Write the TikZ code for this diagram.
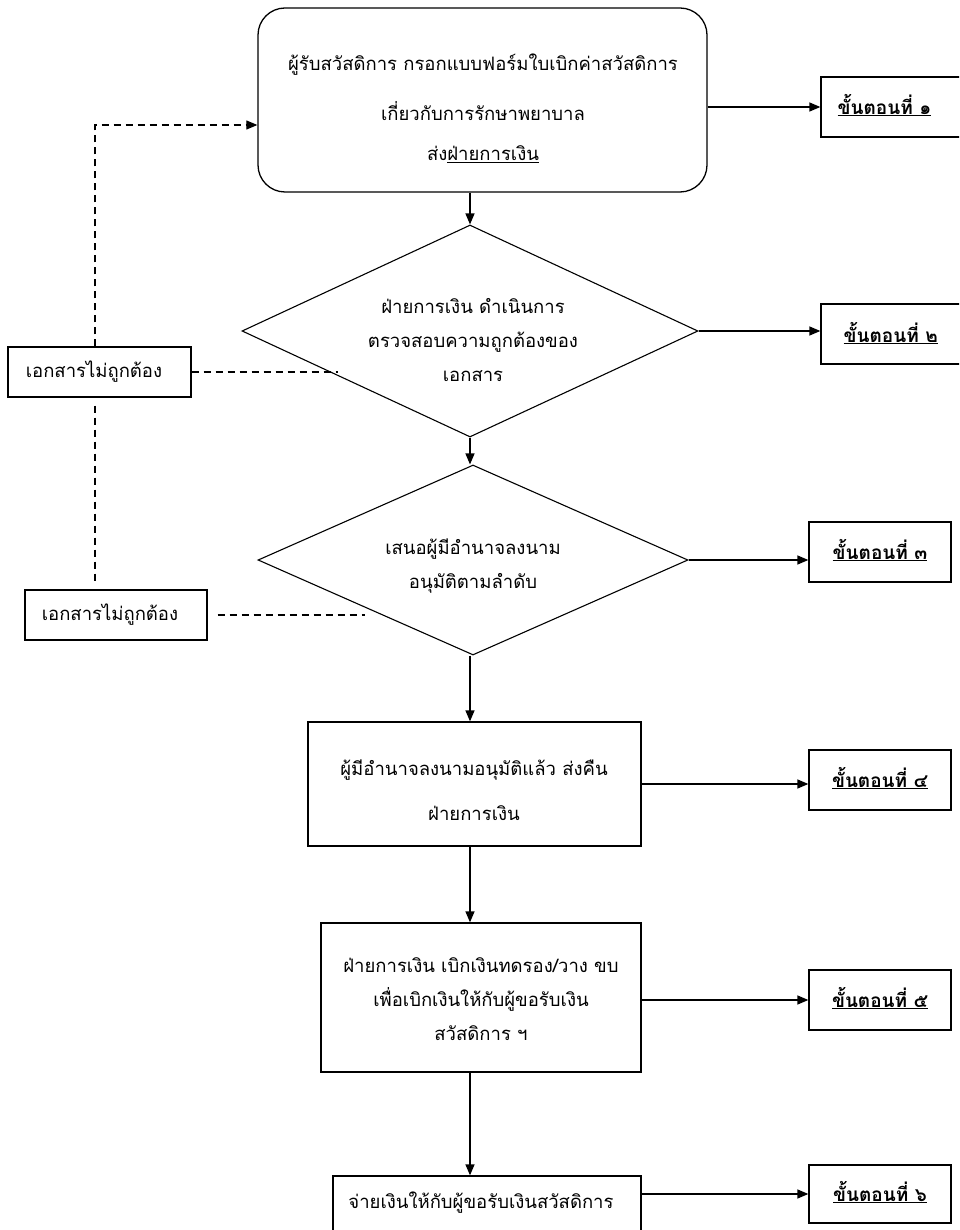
\documentclass[tikz,border=0pt]{standalone}
\usepackage{fontspec}
\setmainfont[Script=Thai]{Loma}
\usetikzlibrary{arrows.meta,shapes.geometric}
\begin{document}
\begin{tikzpicture}[x=1pt,y=-1pt,
  line width=1.3pt,
  arr/.style={-{Triangle[length=11pt,width=9pt]}},
  dline/.style={dashed, dash pattern=on 7pt off 5pt, line width=1.1pt},
  box/.style={draw, rectangle, inner sep=0pt},
  rbox/.style={draw, rectangle, rounded corners=27pt, inner sep=0pt},
  dia/.style={draw, diamond, inner sep=0pt, line width=1.1pt},
  txt/.style={font=\fontsize{18.5}{34}\selectfont, align=center, inner sep=0pt},
  stp/.style={font=\fontsize{19}{22}\selectfont\bfseries, inner sep=0pt}
]
\useasboundingbox (0,0) rectangle (959,1230);
\fill[white] (0,0) rectangle (959,1230);
\clip (0,0) rectangle (959,1230);

\coordinate (ax) at (470,0);
\coordinate (c) at (95,125);
\coordinate (e1) at (338,373);
\coordinate (e2) at (365,617);

% main flow
\node[rbox, minimum width=449pt, minimum height=184pt] (n1) at (482.5,100) {};
\node[txt, font=\fontsize{18.5}{40}\selectfont] (n1t) at (483,108)
  {ผู้รับสวัสดิการ กรอกแบบฟอร์มใบเบิกค่าสวัสดิการ\\[10pt]เกี่ยวกับการรักษาพยาบาล\\ส่ง\underline{ฝ่ายการเงิน}};

\node[dia, minimum width=456pt, minimum height=212pt] (d1) at (470,331) {};
\node[txt] (d1t) at (473,340)
  {ฝ่ายการเงิน ดำเนินการ\\ตรวจสอบความถูกต้องของ\\เอกสาร};

\node[dia, minimum width=430pt, minimum height=190pt] (d2) at (473,560) {};
\node[txt] (d2t) at (473,566)
  {เสนอผู้มีอำนาจลงนาม\\อนุมัติตามลำดับ};

\node[box, minimum width=333pt, minimum height=124pt] (n4) at (474.5,784) {};
\node[txt, font=\fontsize{18.5}{45}\selectfont] (n4t) at (474,790)
  {ผู้มีอำนาจลงนามอนุมัติแล้ว ส่งคืน\\ฝ่ายการเงิน};

\node[box, minimum width=320pt, minimum height=149pt] (n5) at (481,997.5) {};
\node[txt] (n5t) at (481,999)
  {ฝ่ายการเงิน เบิกเงินทดรอง/วาง ขบ\\เพื่อเบิกเงินให้กับผู้ขอรับเงิน\\สวัสดิการ ฯ};

\node[box, minimum width=308pt, minimum height=69pt] (n6) at (487,1210.5) {};
\node[txt] (n6t) at (481,1203) {จ่ายเงินให้กับผู้ขอรับเงินสวัสดิการ};

% step boxes
\node[box, minimum width=154pt, minimum height=60pt] (s1) at (898,107) {};
\node[stp, anchor=west] (s1t) at (837,105) {\underline{ขั้นตอนที่ ๑}};
\node[box, minimum width=154pt, minimum height=60pt] (s2) at (898,334) {};
\node[stp, anchor=west] (s2t) at (843,333) {\underline{ขั้นตอนที่ ๒}};
\node[box, minimum width=142pt, minimum height=60pt] (s3) at (880,552) {};
\node[stp] (s3t) at (880,550) {\underline{ขั้นตอนที่ ๓}};
\node[box, minimum width=142pt, minimum height=60pt] (s4) at (880,780) {};
\node[stp] (s4t) at (880,778) {\underline{ขั้นตอนที่ ๔}};
\node[box, minimum width=142pt, minimum height=60pt] (s5) at (880,1000) {};
\node[stp] (s5t) at (880,998) {\underline{ขั้นตอนที่ ๕}};
\node[box, minimum width=142pt, minimum height=58pt] (s6) at (880,1194) {};
\node[stp] (s6t) at (880,1192) {\underline{ขั้นตอนที่ ๖}};

% error boxes
\node[box, minimum width=183pt, minimum height=50pt] (b1) at (99.5,372) {};
\node[txt] (b1t) at (94,372) {เอกสารไม่ถูกต้อง};
\node[box, minimum width=182pt, minimum height=50pt] (b2) at (116,615) {};
\node[txt] (b2t) at (110,615) {เอกสารไม่ถูกต้อง};

% vertical flow arrows
\draw[arr] (n1.south -| ax) -- (d1.north -| ax);
\draw[arr] (d1.south -| ax) -- (d2.north -| ax);
\draw[arr] (d2.south -| ax) -- (n4.north -| ax);
\draw[arr] (n4.south -| ax) -- (n5.north -| ax);
\draw[arr] (n5.south -| ax) -- (n6.north -| ax);

% arrows to steps
\draw[arr] (n1.east |- s1.west) -- (s1.west);
\draw[arr] (d1.east) -- (d1.east -| s2.west);
\draw[arr] (d2.east) -- (d2.east -| s3.west);
\draw[arr] (n4.east) -- (n4.east -| s4.west);
\draw[arr] (n5.east |- s5.west) -- (s5.west);
\draw[arr] (n6.east |- s6.west) -- (s6.west);

% dashed return paths
\draw[dline, arr] (b1.north -| c) -- (c) -- (n1.west |- c);
\draw[dline] ([yshift=-8pt]b1.south -| c) -- ([yshift=8pt]b2.north -| c);
\draw[dline] (b1.east) -- (b1.east -| e1);
\draw[dline] ([xshift=10pt]b2.east) -- (b2.east -| e2);
\end{tikzpicture}
\end{document}
